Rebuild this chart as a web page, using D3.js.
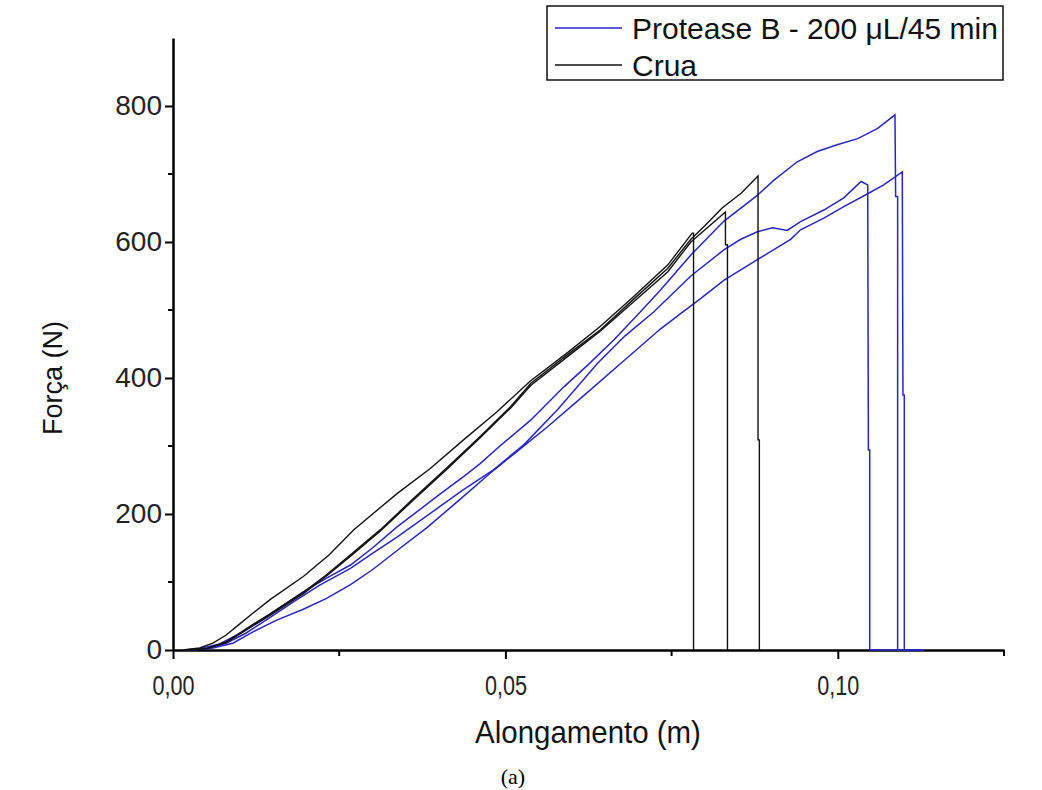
<!DOCTYPE html>
<html>
<head>
<meta charset="utf-8">
<script src="https://cdn.jsdelivr.net/npm/d3@7"></script>
<style>
  body { margin: 0; background: #fff; }
  svg { display: block; }
</style>
</head>
<body>
<svg id="chart" width="1042" height="790"></svg>
<script>
// Alongamento (m) x Força (N)
const crua1 = [[0.0020,0],[0.0050,2],[0.0080,12],[0.0121,38],[0.0146,53],[0.0196,85],[0.0230,110],[0.0267,140],[0.0312,177],[0.0362,223],[0.0412,268],[0.0462,314],[0.0508,358],[0.0538,392],[0.0593,434],[0.0643,471],[0.0693,516],[0.0744,561],[0.0779,604],[0.0800,624],[0.0826,650],[0.0855,672],[0.0880,697],[0.0880,309],[0.0882,309],[0.0882,0]]
const crua2 = [[0.0020,0],[0.0050,2],[0.0080,11],[0.0121,36],[0.0146,51],[0.0196,83],[0.0230,108],[0.0267,138],[0.0312,175],[0.0362,221],[0.0412,266],[0.0462,312],[0.0508,356],[0.0538,389],[0.0593,431],[0.0643,469],[0.0693,512],[0.0744,556],[0.0779,600],[0.0805,622],[0.0831,644],[0.0831,596],[0.0834,596],[0.0834,0]]
const crua3 = [[0.0015,0],[0.0040,3],[0.0060,10],[0.0080,22],[0.0095,34],[0.0120,54],[0.0146,74],[0.0196,108],[0.0235,140],[0.0272,177],[0.0337,230],[0.0387,267],[0.0437,309],[0.0487,350],[0.0538,396],[0.0593,437],[0.0643,476],[0.0693,520],[0.0744,566],[0.0781,613],[0.0783,613],[0.0783,0]]

const prot1 = [[0.0015,0],[0.0040,2],[0.0070,9],[0.0100,24],[0.0130,42],[0.0160,62],[0.0200,88],[0.0235,108],[0.0267,125],[0.0300,150],[0.0337,181],[0.0400,228],[0.0437,255],[0.0462,274],[0.0487,296],[0.0538,338],[0.0588,387],[0.0625,420],[0.0663,456],[0.0700,494],[0.0733,529],[0.0779,581],[0.0828,630],[0.0877,667],[0.0904,691],[0.0939,718],[0.0969,733],[0.0999,743],[0.1030,752],[0.1060,767],[0.1086,787],[0.1087,667],[0.1090,667],[0.1090,0],[0.1130,0]]
const prot2 = [[0.0020,0],[0.0050,2],[0.0080,10],[0.0110,25],[0.0140,44],[0.0180,70],[0.0220,95],[0.0267,120],[0.0300,142],[0.0337,166],[0.0400,210],[0.0437,236],[0.0482,265],[0.0528,302],[0.0580,355],[0.0638,421],[0.0680,462],[0.0723,497],[0.0779,550],[0.0828,588],[0.0854,604],[0.0879,615],[0.0902,621],[0.0924,617],[0.0944,630],[0.0979,647],[0.1009,665],[0.1035,689],[0.1045,684],[0.1046,294],[0.1048,294],[0.1048,0],[0.1130,0]]
const prot3 = [[0.0030,0],[0.0060,3],[0.0090,10],[0.0121,27],[0.0156,44],[0.0196,60],[0.0231,76],[0.0267,96],[0.0300,118],[0.0342,150],[0.0382,180],[0.0430,220],[0.0477,260],[0.0520,294],[0.0563,328],[0.0620,376],[0.0673,421],[0.0733,472],[0.0764,495],[0.0794,517],[0.0829,544],[0.0879,574],[0.0929,604],[0.0944,618],[0.0979,635],[0.1009,652],[0.1045,671],[0.1069,684],[0.1097,703],[0.1098,375],[0.1100,375],[0.1100,0],[0.1130,0]]

const xMajor = [0, 0.05, 0.10]
const xMinor = [0.025, 0.075, 0.125]
const yMajor = [0, 200, 400, 600, 800]
const yMinor = [100, 300, 500, 700]
const legendLabels = ["Protease B - 200 \u03bcL/45 min", "Crua"]

const blue = "#2626c4"

var svg = d3.select("#chart")

var x = d3.scaleLinear().domain([0, 0.125]).range([173, 1004])
var y = d3.scaleLinear().domain([0, 900]).range([650, 38])

var fmt = d3.formatLocale({ decimal: ",", thousands: ".", grouping: [3], currency: ["", ""] }).format(".2f")

// eixos
var xAxis = svg.append("g")
		.attr("transform", "translate(0,650)")
		.call(d3.axisBottom(x).tickValues(xMajor).tickFormat(fmt).tickSize(9).tickPadding(17).tickSizeOuter(0))

xAxis.append("g").selectAll("line")
		.data(xMinor)
		.enter()
		.append("line")
			.attr("x1", d => x(d)).attr("x2", d => x(d))
			.attr("y1", 0).attr("y2", 6)

var yAxis = svg.append("g")
		.attr("transform", "translate(173,0)")
		.call(d3.axisLeft(y).tickValues(yMajor).tickSize(8).tickPadding(3).tickSizeOuter(0))

yAxis.append("g").selectAll("line")
		.data(yMinor)
		.enter()
		.append("line")
			.attr("y1", d => y(d)).attr("y2", d => y(d))
			.attr("x1", 0).attr("x2", -5)

svg.selectAll(".domain").attr("stroke", "#000").attr("stroke-width", 2.5)
svg.selectAll(".tick line").attr("stroke", "#000").attr("stroke-width", 2)
xAxis.selectAll("g > line").attr("stroke", "#000").attr("stroke-width", 2)
yAxis.selectAll("g > line").attr("stroke", "#000").attr("stroke-width", 2)

xAxis.selectAll(".tick text")
		.attr("font-family", "Liberation Sans, Arial, sans-serif")
		.attr("font-size", 27)
		.attr("fill", "#222")
		.attr("transform", "scale(0.8,1)")

yAxis.selectAll(".tick text")
		.attr("font-family", "Liberation Sans, Arial, sans-serif")
		.attr("font-size", 28)
		.attr("fill", "#222")

// curvas
var line = d3.line().x(d => x(d[0])).y(d => y(d[1]))

svg.append("g").selectAll("path")
		.data([prot1, prot2, prot3])
		.enter()
		.append("path")
			.attr("d", line)
			.attr("fill", "none")
			.attr("stroke", blue)
			.attr("stroke-width", 1.5)

svg.append("g").selectAll("path")
		.data([crua1, crua2, crua3])
		.enter()
		.append("path")
			.attr("d", line)
			.attr("fill", "none")
			.attr("stroke", "#111")
			.attr("stroke-width", 1.4)

// títulos
svg.append("text")
		.attr("transform", "translate(588,732) scale(0.95,1)")
		.attr("text-anchor", "middle")
		.attr("dy", "0.35em")
		.attr("font-family", "Liberation Sans, Arial, sans-serif")
		.attr("font-size", 31)
		.attr("fill", "#111")
		.text("Alongamento (m)")

svg.append("text")
		.attr("transform", "translate(53,378) rotate(-90)")
		.attr("text-anchor", "middle")
		.attr("dy", "0.35em")
		.attr("font-family", "Liberation Sans, Arial, sans-serif")
		.attr("font-size", 27)
		.attr("fill", "#111")
		.text("Força (N)")

svg.append("text")
		.attr("x", 513).attr("y", 776)
		.attr("text-anchor", "middle")
		.attr("dy", "0.35em")
		.attr("font-family", "Liberation Serif, Times New Roman, serif")
		.attr("font-size", 22)
		.attr("fill", "#000")
		.text("(a)")

// legenda
var legend = svg.append("g")

legend.append("rect")
		.attr("x", 547).attr("y", 6)
		.attr("width", 456).attr("height", 74)
		.attr("fill", "#fff")
		.attr("stroke", "#111")
		.attr("stroke-width", 1.5)

var item = legend.selectAll(".item")
		.data(legendLabels)
		.enter()
		.append("g")
			.attr("transform", (d, i) => "translate(0," + (28 + i * 37) + ")")

item.append("line")
		.attr("x1", 555).attr("x2", 622)
		.attr("stroke", (d, i) => i == 0 ? blue : "#111")
		.attr("stroke-width", 1.5)

item.append("text")
		.attr("x", 632)
		.attr("dy", "0.35em")
		.attr("font-family", "Liberation Sans, Arial, sans-serif")
		.attr("font-size", 30)
		.attr("fill", "#111")
		.text(d => d)
</script>
</body>
</html>
